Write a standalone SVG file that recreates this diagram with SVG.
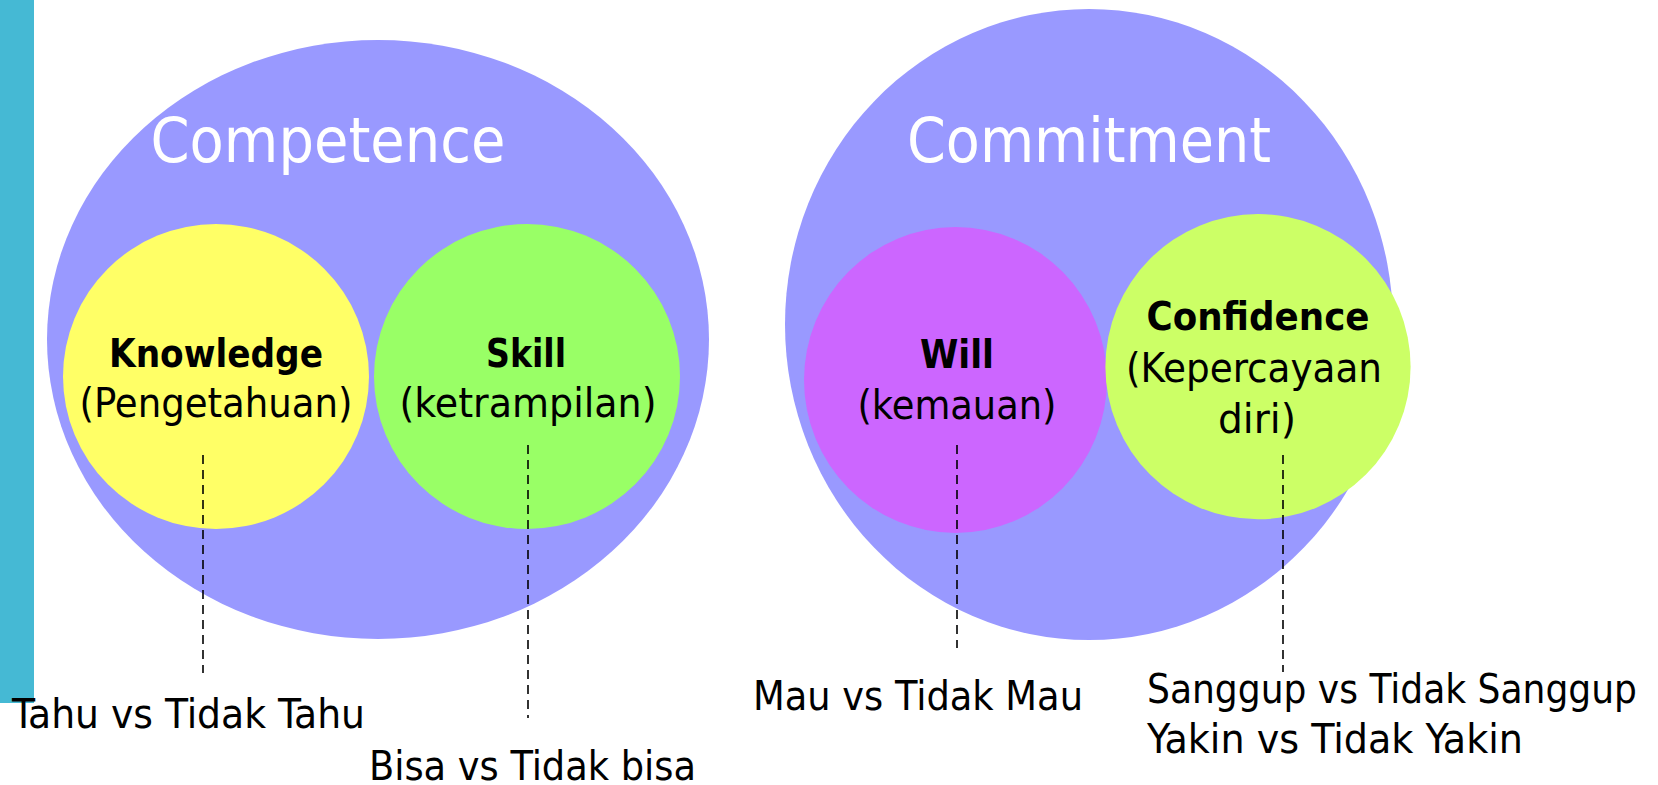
<svg xmlns="http://www.w3.org/2000/svg" width="1658" height="785" viewBox="0 0 1658 785">
<style>
text{font-family:"DejaVu Sans Condensed","DejaVu Sans",sans-serif;font-stretch:condensed;fill:#000}
.big{font-size:63px;fill:#fff}
.b{font-size:39px;font-weight:bold}
.r{font-size:40px}
.outer{fill:#9999FF}
.dash{stroke:#000;stroke-width:1.6;stroke-dasharray:9 6;fill:none}
</style>
<rect id="bar" x="0" y="0" width="34" height="703" fill="#45B9D4"/>
<g id="competence">
<ellipse class="outer" cx="378" cy="339.5" rx="331" ry="299.5"/>
<text class="big" x="328" y="162" text-anchor="middle" textLength="355" lengthAdjust="spacingAndGlyphs">Competence</text>
</g>
<g id="commitment">
<ellipse class="outer" cx="1089" cy="324.5" rx="304" ry="315.5"/>
<text class="big" x="1089" y="162" text-anchor="middle" textLength="364" lengthAdjust="spacingAndGlyphs">Commitment</text>
</g>
<g id="knowledge">
<ellipse cx="216" cy="376.5" rx="153" ry="152.5" fill="#FFFF66"/>
<text class="b" x="216" y="367" text-anchor="middle" textLength="214" lengthAdjust="spacingAndGlyphs">Knowledge</text>
<text class="r" x="216" y="417" text-anchor="middle" textLength="273" lengthAdjust="spacingAndGlyphs">(Pengetahuan)</text>
</g>
<g id="skill">
<ellipse cx="527" cy="376.5" rx="153" ry="152.5" fill="#99FF66"/>
<text class="b" x="526" y="367" text-anchor="middle" textLength="80" lengthAdjust="spacingAndGlyphs">Skill</text>
<text class="r" x="528" y="417" text-anchor="middle" textLength="257" lengthAdjust="spacingAndGlyphs">(ketrampilan)</text>
</g>
<g id="will">
<ellipse cx="955.5" cy="380" rx="151.5" ry="153" fill="#CC66FF"/>
<text class="b" x="957" y="368" text-anchor="middle" textLength="74" lengthAdjust="spacingAndGlyphs">Will</text>
<text class="r" x="957" y="419" text-anchor="middle" textLength="199" lengthAdjust="spacingAndGlyphs">(kemauan)</text>
</g>
<g id="confidence">
<ellipse cx="1258" cy="366.7" rx="152.6" ry="152.6" fill="#CCFF66"/>
<text class="b" x="1258" y="330" text-anchor="middle" textLength="223" lengthAdjust="spacingAndGlyphs">Confidence</text>
<text class="r" x="1254" y="382" text-anchor="middle" textLength="256" lengthAdjust="spacingAndGlyphs">(Kepercayaan</text>
<text class="r" x="1257" y="433" text-anchor="middle" textLength="78" lengthAdjust="spacingAndGlyphs">diri)</text>
</g>
<g id="connectors">
<line class="dash" x1="203" y1="455" x2="203" y2="673"/>
<line class="dash" x1="528" y1="445" x2="528" y2="718"/>
<line class="dash" x1="957" y1="445" x2="957" y2="648"/>
<line class="dash" x1="1283" y1="455" x2="1283" y2="672"/>
</g>
<g id="labels">
<text class="r" x="12" y="728" textLength="353" lengthAdjust="spacingAndGlyphs">Tahu vs Tidak Tahu</text>
<text class="r" x="369" y="780" textLength="327" lengthAdjust="spacingAndGlyphs">Bisa vs Tidak bisa</text>
<text class="r" x="753" y="710" textLength="330" lengthAdjust="spacingAndGlyphs">Mau vs Tidak Mau</text>
<text class="r" x="1147" y="703" textLength="490" lengthAdjust="spacingAndGlyphs">Sanggup vs Tidak Sanggup</text>
<text class="r" x="1147" y="753" textLength="376" lengthAdjust="spacingAndGlyphs">Yakin vs Tidak Yakin</text>
</g>
</svg>
